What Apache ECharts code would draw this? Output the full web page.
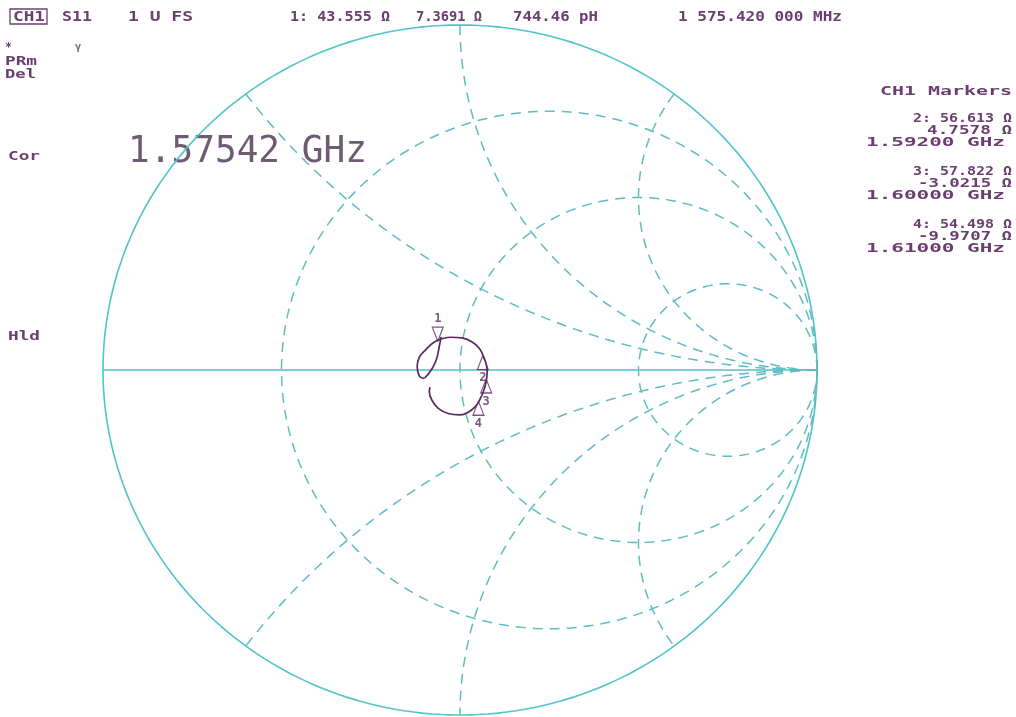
<!DOCTYPE html>
<html>
<head>
<meta charset="utf-8">
<title>S11 Smith chart</title>
<script src="https://cdn.jsdelivr.net/npm/echarts@6/dist/echarts.min.js"></script>
<style>
html, body { margin: 0; padding: 0; background: #fff; }
#chartPanel { width: 1016px; height: 717px; }
</style>
</head>
<body>
<div id="chartPanel"></div>
<script>
var Z0 = 50; // reference impedance, ohm

// smith grid (normalised resistance circles / reactance arcs)
var resistanceCircles = [1 / 3, 1, 3];
var reactanceArcs = [0.5, 1, 2];

// S11 trace, reflection coefficient re / im
var traceRe = [-0.053, -0.058, -0.065, -0.075, -0.089, -0.103, -0.114, -0.120, -0.114, -0.095,
               -0.075, -0.056, -0.028, 0.005, 0.033, 0.054, 0.068, 0.075, 0.076, 0.074,
               0.067, 0.055, 0.042, 0.022, 0.000, -0.033, -0.061, -0.079, -0.086, -0.084];
var traceIm = [0.096, 0.068, 0.034, 0.010, -0.012, -0.024, -0.017, 0.010, 0.037, 0.060,
               0.079, 0.089, 0.095, 0.093, 0.082, 0.063, 0.034, 0.010, -0.006, -0.029,
               -0.058, -0.087, -0.107, -0.123, -0.130, -0.126, -0.111, -0.087, -0.063, -0.050];

// marker readouts
var markerNames = ['1', '2', '3', '4'];
var markerR = [43.555, 56.613, 57.822, 54.498];
var markerX = [7.3691, 4.7578, -3.0215, -9.9707];
var markerFreqGHz = [1.57542, 1.592, 1.600, 1.610];
var marker1pH = 744.46;
var stimulus = '1 575.420 000 MHz';

var purple = '#6a3f6f';
var cyan = '#50c4c8';
var cyanDash = '#5fbcc0';

function gamma(r, x) {
  var c = r + Z0, den = c * c + x * x;
  return [((r - Z0) * c + x * x) / den, (x * c - (r - Z0) * x) / den];
}

// grid items: [cx, cy, radius, angle0, angle1, solid]
var gridItems = [[0, 0, 1, 0, 2 * Math.PI, 1]];
resistanceCircles.forEach(function (r) {
  gridItems.push([r / (r + 1), 0, 1 / (r + 1), 0, 2 * Math.PI, 0]);
});
reactanceArcs.forEach(function (x) {
  var a0 = Math.atan2((x * x - 1) / x, -2);
  if (a0 < 0) a0 += 2 * Math.PI;
  gridItems.push([1, 1 / x, 1 / x, a0, 1.5 * Math.PI, 0]);
  gridItems.push([1, -1 / x, 1 / x, 0.5 * Math.PI, 2 * Math.PI - a0, 0]);
});

function renderGrid(params, api) {
  var cx = api.value(0), cy = api.value(1), rad = api.value(2),
      a0 = api.value(3), a1 = api.value(4), solid = api.value(5);
  var pts = [], n = 240;
  for (var i = 0; i <= n; i++) {
    var a = a0 + (a1 - a0) * i / n;
    pts.push(api.coord([cx + rad * Math.cos(a), cy + rad * Math.sin(a)]));
  }
  return {
    type: 'polyline',
    shape: { points: pts },
    style: {
      fill: null,
      stroke: solid ? cyan : cyanDash,
      lineWidth: solid ? 1.6 : 1.5,
      lineDash: solid ? null : [10, 7]
    }
  };
}

// text stretched to the instrument's wide character cells
var measureCtx = document.createElement('canvas').getContext('2d');
function fitText(str, x0, x1, y, font, color) {
  measureCtx.font = font;
  var w = measureCtx.measureText(str).width;
  return {
    type: 'text', x: x0, y: y, scaleX: (x1 - x0) / w, silent: true,
    style: { text: str, font: font, fill: color || purple, verticalAlign: 'middle', textVerticalAlign: 'middle' }
  };
}

var headFont = 'bold 14px "DejaVu Sans Mono"';
var panelFont = 'bold 13px "DejaVu Sans Mono"';
var sideFont = 'bold 13px "DejaVu Sans Mono"';
var ohm = ' \u03a9';

var texts = [
  { type: 'rect', shape: { x: 10, y: 9, width: 37, height: 15 }, style: { fill: null, stroke: purple, lineWidth: 1.3 } },
  fitText('CH1', 13, 45, 17, headFont),
  fitText('S11', 62, 92, 17, headFont),
  fitText('1 U FS', 128, 193, 17, headFont),
  fitText('1: ' + markerR[0].toFixed(3) + ohm, 290, 390, 17, headFont),
  fitText(markerX[0].toFixed(4) + ohm, 416, 482, 17, headFont),
  fitText(marker1pH.toFixed(2) + ' pH', 513, 598, 17, headFont),
  fitText(stimulus, 678, 842, 17, headFont),
  fitText('\u03b3', 75, 81, 47, 'bold 10px "DejaVu Sans"', '#7a6a7e'),
  fitText('*', 5, 12, 48, sideFont),
  fitText('PRm', 5, 37, 62, sideFont),
  fitText('Del', 5, 36, 75, sideFont),
  fitText('Cor', 8, 40, 157, sideFont),
  fitText('Hld', 8, 40, 337, sideFont),
  fitText(markerFreqGHz[0].toFixed(5) + ' GHz', 128, 367, 152, '37px "DejaVu Sans Mono"', '#6f5a74'),
  fitText('CH1 Markers', 880, 1012, 92, panelFont)
];

var rowY = [119, 172, 225];
for (var k = 1; k < markerNames.length; k++) {
  var y0 = rowY[k - 1];
  texts.push(fitText(markerNames[k] + ': ' + markerR[k].toFixed(3) + ohm, 913, 1012, y0, panelFont));
  texts.push(fitText(markerX[k].toFixed(4) + ohm, markerX[k] < 0 ? 918 : 927, 1012, y0 + 12, panelFont));
  texts.push(fitText(markerFreqGHz[k].toFixed(5) + ' GHz', 866, 1005, y0 + 24, panelFont));
}

var markerData = markerNames.map(function (n, i) {
  var first = i === 0;
  return {
    name: n,
    value: gamma(markerR[i], markerX[i]),
    symbol: first ? 'path://M0,0 L10,0 L5,14 Z' : 'triangle',
    symbolOffset: first ? [0, -7] : [0, 7],
    label: { position: first ? 'top' : 'bottom' }
  };
});

var chartPanel = echarts.init(document.getElementById('chartPanel'));
var option = {
  backgroundColor: '#fff',
  animation: false,
  grid: { left: 103, right: 199, top: 25, bottom: 2 },
  xAxis: {
    type: 'value', min: -1, max: 1,
    axisLine: { show: true, onZero: true, lineStyle: { color: cyan, width: 1.6 } },
    axisTick: { show: false }, axisLabel: { show: false }, splitLine: { show: false }
  },
  yAxis: {
    type: 'value', min: -1, max: 1,
    axisLine: { show: false }, axisTick: { show: false }, axisLabel: { show: false }, splitLine: { show: false }
  },
  series: [
    {
      type: 'custom',
      silent: true,
      dimensions: ['cx', 'cy', 'rad', 'a0', 'a1', 'solid'],
      encode: { x: 0, y: 1 },
      renderItem: renderGrid,
      data: gridItems,
      z: 1
    },
    {
      type: 'line',
      data: traceRe.map(function (v, i) { return [v, traceIm[i]]; }),
      showSymbol: false,
      smooth: 0.4,
      lineStyle: { color: '#5b2862', width: 1.7 },
      z: 5
    },
    {
      type: 'scatter',
      data: markerData,
      symbolSize: [11, 14],
      itemStyle: { color: 'rgba(255,255,255,0)', borderColor: '#5b2862', borderWidth: 1.2 },
      label: {
        show: true, formatter: '{b}', distance: 2,
        color: '#5b2862', fontFamily: 'DejaVu Sans Mono', fontWeight: 'bold', fontSize: 12
      },
      z: 6
    }
  ],
  graphic: { elements: texts }
};
chartPanel.setOption(option);
</script>
</body>
</html>
